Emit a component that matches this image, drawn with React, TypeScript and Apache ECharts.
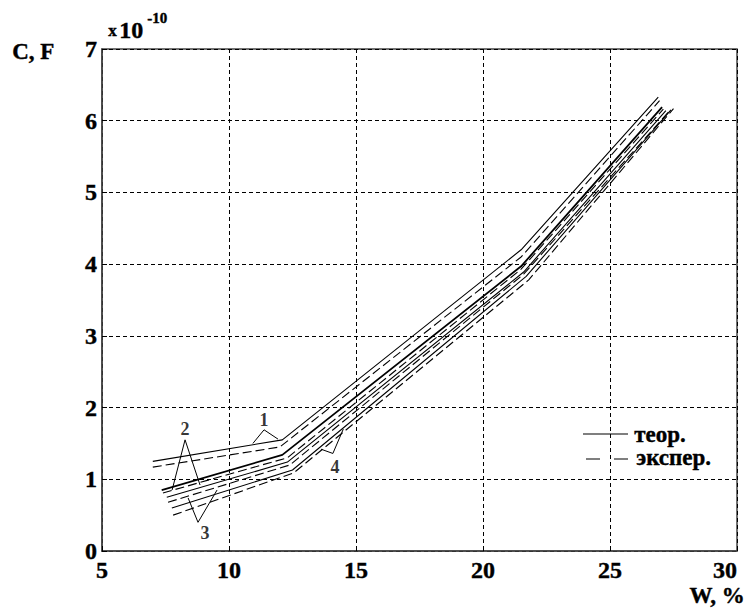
import React, { useEffect, useRef } from "react";
import * as echarts from "echarts";

// Theoretical (solid) curves, [W %, C x1e-10 F]
const theor1 = [[7.0, 1.25], [12.1, 1.55], [21.5, 4.2], [26.9, 6.33]];
const theor2 = [[7.35, 0.85], [12.1, 1.34], [21.5, 3.97], [27.05, 6.19]];
const theor3 = [[7.55, 0.75], [12.3, 1.24], [21.6, 3.89], [27.2, 6.14]];
const theor4 = [[7.75, 0.6], [12.5, 1.13], [21.7, 3.83], [27.4, 6.15]];
// Experimental (dashed) curves
const exper1 = [[7.0, 1.17], [12.0, 1.45], [21.5, 4.1], [26.95, 6.28]];
const exper2 = [[7.4, 0.81], [12.3, 1.3], [21.5, 3.93], [27.1, 6.16]];
const exper3 = [[7.6, 0.68], [12.4, 1.2], [21.6, 3.86], [27.3, 6.12]];
const exper4 = [[7.8, 0.5], [12.55, 1.09], [21.8, 3.78], [27.5, 6.17]];

// Curve-number annotations: label position and pointer polylines
const annoLabels = [
  [11.38, 1.83, "1"],
  [8.27, 1.7, "2"],
  [9.06, 0.25, "3"],
  [14.17, 1.17, "4"],
];
const pointer1 = [[10.94, 1.5], [11.38, 1.69], [11.93, 1.56]];
const pointer2 = [[7.76, 0.85], [8.27, 1.55], [8.86, 0.92]];
const pointer3 = [[8.39, 0.74], [8.78, 0.4], [9.53, 0.85]];
const pointer4 = [[13.62, 1.42], [14.09, 1.36], [14.5, 1.7]];

const xTicks = { min: 5, max: 30, interval: 5 };
const yTicks = { min: 0, max: 7, interval: 1 };

const FONT = "Liberation Serif";

export default function App() {
  const ref = useRef<HTMLDivElement>(null);
  useEffect(() => {
    if (!ref.current) return;
    const chart = echarts.init(ref.current, null, { renderer: "svg" });
    const solid = (name: string, data: number[][], w = 1.1) => ({
      name,
      type: "line",
      data,
      symbol: "none",
      silent: true,
      lineStyle: { color: "#000", width: w, type: "solid" },
      z: 3,
    });
    const dashed = (name: string, data: number[][]) => ({
      name,
      type: "line",
      data,
      symbol: "none",
      silent: true,
      lineStyle: { color: "#000", width: 1.1, type: [9, 4] },
      z: 3,
    });
    const pointer = (data: number[][]) => ({
      type: "line",
      data,
      symbol: "none",
      silent: true,
      lineStyle: { color: "#000", width: 1 },
      z: 4,
    });
    const txt = (text: string, size: number, pos: any) => ({
      type: "text",
      ...pos,
      style: {
        text,
        fill: "#000",
        fontFamily: FONT,
        fontWeight: "bold",
        fontSize: size,
        stroke: "#000",
        lineWidth: 0.4,
      },
    });
    const axisLabel = {
      color: "#000",
      fontFamily: FONT,
      fontWeight: "bold",
      fontSize: 24,
      textBorderColor: "#000",
      textBorderWidth: 0.4,
    };
    chart.setOption({
      animation: false,
      backgroundColor: "#fff",
      grid: {
        left: 102,
        right: 12,
        top: 49,
        bottom: 59,
        show: true,
        borderColor: "#444",
        borderWidth: 1.5,
      },
      xAxis: {
        type: "value",
        ...xTicks,
        axisLine: { show: true, lineStyle: { color: "#444", width: 1.5 } },
        axisTick: { show: true, inside: true, length: 5, lineStyle: { color: "#000" } },
        splitLine: { show: true, lineStyle: { color: "#000", width: 1, type: [4, 3] } },
        axisLabel: { ...axisLabel, margin: 7, alignMaxLabel: "right" },
      },
      yAxis: {
        type: "value",
        ...yTicks,
        axisLine: { show: true, lineStyle: { color: "#444", width: 1.5 } },
        axisTick: { show: true, inside: true, length: 5, lineStyle: { color: "#000" } },
        splitLine: { show: true, lineStyle: { color: "#000", width: 1, type: [4, 3] } },
        axisLabel: { ...axisLabel, margin: 5 },
      },
      series: [
        solid("теор.", theor1),
        solid("теор.", theor2, 1.8),
        solid("теор.", theor3),
        solid("теор.", theor4),
        dashed("экспер.", exper1),
        dashed("экспер.", exper2),
        dashed("экспер.", exper3),
        dashed("экспер.", exper4),
        pointer(pointer1),
        pointer(pointer2),
        pointer(pointer3),
        pointer(pointer4),
        {
          type: "scatter",
          data: annoLabels,
          symbolSize: 0,
          silent: true,
          z: 5,
          label: {
            show: true,
            position: "inside",
            formatter: (p: any) => p.value[2],
            color: "#000",
            fontFamily: FONT,
            fontWeight: "bold",
            fontSize: 18,
          },
        },
      ],
      graphic: [
        txt("C, F", 23, { left: 12, top: 40 }),
        txt("x", 17, { left: 108, top: 22 }),
        txt("10", 24, { left: 119, top: 18 }),
        txt("-10", 15, { left: 147, top: 10 }),
        txt("W, %", 23, { right: 4, top: 584 }),
        {
          type: "line",
          shape: { x1: 583, y1: 434, x2: 628, y2: 434 },
          style: { stroke: "#000", lineWidth: 1.2 },
        },
        {
          type: "line",
          shape: { x1: 586, y1: 459, x2: 628, y2: 459 },
          style: { stroke: "#000", lineWidth: 1.2, lineDash: [14, 14] },
        },
        txt("теор.", 23, { left: 634, top: 423 }),
        txt("экспер.", 23, { left: 636, top: 446 }),
      ],
    });
    return () => chart.dispose();
  }, []);
  return <div ref={ref} style={{ width: 749, height: 610, position: "absolute", left: 0, top: 0 }} />;
}
